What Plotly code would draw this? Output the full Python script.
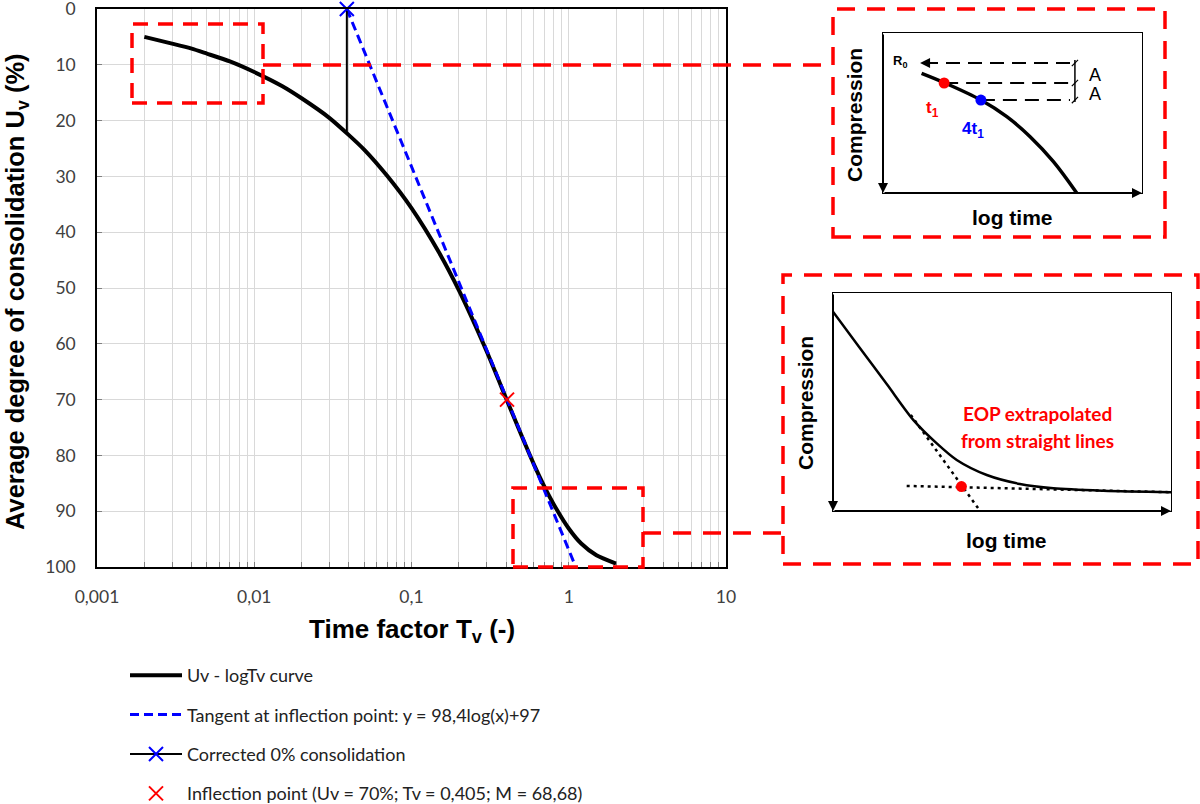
import plotly.graph_objects as go

# ---------------- data ----------------
tv_curve = [0.002, 0.003, 0.004, 0.005, 0.007, 0.01, 0.015, 0.02, 0.03, 0.04, 0.05, 0.07,
            0.1, 0.15, 0.2, 0.3, 0.4, 0.5, 0.6, 0.7, 0.8, 1.0, 1.2, 1.5, 2.0]
uv_curve = [5.0, 6.2, 7.1, 8.0, 9.4, 11.3, 13.8, 16.0, 19.5, 22.6, 25.2, 29.9,
            35.7, 43.7, 50.4, 61.3, 69.8, 76.4, 81.6, 85.6, 88.7, 93.1, 95.8, 97.9, 99.4]
tangent_tv = [0.0388, 1.09]
tangent_uv = [0.0, 99.5]
corrected_tv = [0.0388, 0.0388]
corrected_uv = [0.0, 22.0]
inflection_tv = [0.405]
inflection_uv = [70.0]

x_tickvals = [0.001, 0.01, 0.1, 1, 10]
x_ticktext = ["0,001", "0,01", "0,1", "1", "10"]
y_tickvals = [0, 10, 20, 30, 40, 50, 60, 70, 80, 90, 100]

# inset 1 (schematic, arbitrary 0-100 units)
in1_curve_x = [14.9, 23.6, 37.8, 47.8, 56.8, 65.8, 74.8]
in1_curve_y = [25.2, 31.0, 41.9, 52.3, 64.8, 80.4, 100.0]
in1_r0_x = [72.2, 18.0]
in1_r0_y = [18.75, 18.75]
in1_t1_x = [23.6, 72.2]
in1_t1_y = [31.25, 31.25]
in1_4t1_x = [37.8, 72.2]
in1_4t1_y = [41.9, 41.9]
in1_red_x = [23.6]
in1_red_y = [31.25]
in1_blue_x = [37.8]
in1_blue_y = [41.9]
in1_dim_x = [74.1, 74.1]
in1_dim_y = [16.9, 43.1]
in1_dimtick_x = [72.9, 75.3, None, 72.9, 75.3, None, 72.9, 75.3]
in1_dimtick_y = [20.75, 16.75, None, 33.25, 29.25, None, 43.9, 39.9]

# inset 2 (schematic, arbitrary 0-100 units)
in2_curve_x = [0.0, 8.0, 16.0, 23.8, 30.7, 36.6, 45.5, 55.3, 65.2, 80.0, 100.0]
in2_curve_y = [8.6, 25.3, 42.0, 58.3, 69.0, 76.6, 83.5, 87.6, 89.6, 90.7, 91.4]
in2_steep_x = [23.0, 43.3]
in2_steep_y = [55.9, 99.5]
in2_flat_x = [21.8, 100.0]
in2_flat_y = [88.5, 91.4]
in2_eop_x = [38.0]
in2_eop_y = [88.8]

W, H = 1200, 804


def px(x):
    return x / W


def py(y):
    return 1 - y / H


fig = go.Figure()

fig.add_trace(go.Scatter(
    x=tv_curve, y=uv_curve, mode="lines", name="Uv - logTv curve",
    line=dict(color="black", width=4, shape="spline", smoothing=0.6),
    legendgroup="a"))
fig.add_trace(go.Scatter(
    x=tangent_tv, y=tangent_uv, mode="lines",
    name="Tangent at inflection point: y = 98,4log(x)+97",
    line=dict(color="#0000ff", width=3, dash="9px,5px"), legendgroup="b"))
fig.add_trace(go.Scatter(
    x=corrected_tv, y=corrected_uv, mode="lines+markers",
    name="Corrected 0% consolidation",
    line=dict(color="black", width=2),
    marker=dict(symbol="x-thin", size=14,
                line=dict(color=["#0000ff", "rgba(0,0,0,0)"], width=2)),
    cliponaxis=False, legendgroup="c"))
fig.add_trace(go.Scatter(
    x=inflection_tv, y=inflection_uv, mode="markers",
    name="Inflection point (Uv = 70%; Tv = 0,405; M = 68,68)",
    marker=dict(symbol="x-thin", size=14, line=dict(color="#ff0000", width=2)),
    cliponaxis=False, legendgroup="d"))

# ---------- inset 1 traces ----------
dash_blk = dict(color="black", width=2, dash="14px,8px")
for xs, ys in [(in1_r0_x, in1_r0_y), (in1_t1_x, in1_t1_y), (in1_4t1_x, in1_4t1_y)]:
    fig.add_trace(go.Scatter(x=xs, y=ys, mode="lines", line=dash_blk,
                             xaxis="x2", yaxis="y2", showlegend=False))
fig.add_trace(go.Scatter(x=in1_curve_x, y=in1_curve_y, mode="lines",
                         line=dict(color="black", width=3.5, shape="spline"),
                         xaxis="x2", yaxis="y2", showlegend=False))
fig.add_trace(go.Scatter(x=in1_dim_x, y=in1_dim_y, mode="lines",
                         line=dict(color="black", width=1.5),
                         xaxis="x2", yaxis="y2", showlegend=False))
fig.add_trace(go.Scatter(x=in1_dimtick_x, y=in1_dimtick_y, mode="lines",
                         line=dict(color="black", width=1.2),
                         xaxis="x2", yaxis="y2", showlegend=False))
fig.add_trace(go.Scatter(x=in1_red_x, y=in1_red_y, mode="markers",
                         marker=dict(color="#ff0000", size=11),
                         xaxis="x2", yaxis="y2", showlegend=False))
fig.add_trace(go.Scatter(x=in1_blue_x, y=in1_blue_y, mode="markers",
                         marker=dict(color="#0000ff", size=11),
                         xaxis="x2", yaxis="y2", showlegend=False))

# ---------- inset 2 traces ----------
dot_blk = dict(color="black", width=2.5, dash="3px,4px")
fig.add_trace(go.Scatter(x=in2_steep_x, y=in2_steep_y, mode="lines", line=dot_blk,
                         xaxis="x3", yaxis="y3", showlegend=False))
fig.add_trace(go.Scatter(x=in2_flat_x, y=in2_flat_y, mode="lines", line=dot_blk,
                         xaxis="x3", yaxis="y3", showlegend=False))
fig.add_trace(go.Scatter(x=in2_curve_x, y=in2_curve_y, mode="lines",
                         line=dict(color="black", width=2.5, shape="spline", smoothing=0.8),
                         xaxis="x3", yaxis="y3", showlegend=False))
fig.add_trace(go.Scatter(x=in2_eop_x, y=in2_eop_y, mode="markers",
                         marker=dict(color="#ff0000", size=11),
                         xaxis="x3", yaxis="y3", showlegend=False))

tick_font = dict(family="Lato", size=17.5, color="#404040")
grid_col = "#d9d9d9"

inset_axis = dict(range=[0, 100], showgrid=False, zeroline=False, showticklabels=False,
                  ticks="", showline=True, mirror=True, linecolor="black", linewidth=1.2,
                  fixedrange=True)

fig.update_layout(
    width=W, height=H,
    margin=dict(l=0, r=0, t=0, b=0, autoexpand=False),
    paper_bgcolor="white", plot_bgcolor="white",
    xaxis=dict(type="log", range=[-3, 1], domain=[px(97), px(726)],
               tickvals=x_tickvals, ticktext=x_ticktext, tickfont=tick_font,
               showgrid=True, gridcolor=grid_col, gridwidth=1,
               minor=dict(showgrid=True, gridcolor=grid_col, gridwidth=1, dtick="D1",
                          ticks="inside", ticklen=5, tickcolor="#808080"),
               ticks="inside", ticklen=5, tickcolor="#808080",
               showline=True, mirror=True, linecolor="black", linewidth=1.5,
               zeroline=False, ticklabelstandoff=13, ticklabeloverflow="allow"),
    yaxis=dict(range=[100, 0], domain=[py(567), py(9)],
               tickvals=y_tickvals, tickfont=tick_font,
               showgrid=True, gridcolor=grid_col, gridwidth=1,
               ticks="inside", ticklen=5, tickcolor="#808080",
               showline=True, mirror=True, linecolor="black", linewidth=1.5,
               zeroline=False, ticklabelstandoff=16, ticklabeloverflow="allow"),
    xaxis2=dict(inset_axis, domain=[px(883), px(1142)], anchor="y2"),
    yaxis2=dict(inset_axis, range=[100, 0], domain=[py(193), py(33)], anchor="x2"),
    xaxis3=dict(inset_axis, domain=[px(833), px(1171)], anchor="y3"),
    yaxis3=dict(inset_axis, range=[100, 0], domain=[py(511), py(293)], anchor="x3"),
    legend=dict(x=px(125), y=py(657), xanchor="left", yanchor="top",
                font=dict(family="Lato", size=18, color="#222222"),
                tracegroupgap=13, itemwidth=52, bgcolor="rgba(0,0,0,0)"),
    showlegend=True,
)

red_dash_box = dict(color="#ff0000", width=3.5, dash="15px,10px")
red_dash_big = dict(color="#ff0000", width=3.5, dash="18px,12px")
shapes = [
    dict(type="rect", xref="paper", yref="paper", x0=px(132), x1=px(263), y0=py(103), y1=py(24),
         line=red_dash_box),
    dict(type="rect", xref="paper", yref="paper", x0=px(513), x1=px(643), y0=py(567), y1=py(488),
         line=red_dash_box),
    dict(type="line", xref="paper", yref="paper", x0=px(263), x1=px(833), y0=py(65), y1=py(65),
         line=red_dash_big),
    dict(type="line", xref="paper", yref="paper", x0=px(643), x1=px(783), y0=py(533), y1=py(533),
         line=red_dash_big),
    dict(type="rect", xref="paper", yref="paper", x0=px(833), x1=px(1165), y0=py(237), y1=py(9),
         line=red_dash_big),
    dict(type="rect", xref="paper", yref="paper", x0=px(783), x1=px(1198), y0=py(564), y1=py(275),
         line=red_dash_big),
]
fig.update_layout(shapes=shapes)

ann = []
title_font = dict(family="Liberation Sans", size=25.5, color="black")
ann.append(dict(text="<b>Average degree of consolidation U<sub>v</sub> (%)</b>", xref="paper",
                yref="paper", x=px(17), y=py(292), textangle=-90, showarrow=False,
                font=title_font, xanchor="center", yanchor="middle"))
ann.append(dict(text="<b>Time factor T<sub>v</sub> (-)</b>", xref="paper", yref="paper",
                x=px(412), y=py(630), showarrow=False, font=dict(title_font, size=26),
                xanchor="center", yanchor="middle"))

# inset arrows
for xa, ya in [("x2", "y2"), ("x3", "y3")]:
    ann.append(dict(x=0, y=100, ax=0, ay=0, xref=xa, yref=ya, axref=xa, ayref=ya,
                    showarrow=True, arrowhead=2, arrowsize=1, arrowwidth=2,
                    arrowcolor="black", text=""))
    ann.append(dict(x=100, y=100, ax=0, ay=100, xref=xa, yref=ya, axref=xa, ayref=ya,
                    showarrow=True, arrowhead=2, arrowsize=1, arrowwidth=2,
                    arrowcolor="black", text=""))
ann.append(dict(x=14.3, y=18.75, ax=20, ay=18.75, xref="x2", yref="y2", axref="x2", ayref="y2",
                showarrow=True, arrowhead=2, arrowsize=1, arrowwidth=2, arrowcolor="black",
                text=""))

lab_font = dict(family="Liberation Sans", size=21, color="black")
C = dict(xanchor="center", yanchor="middle", showarrow=False)
ann.append(dict(C, text="<b>Compression</b>", xref="paper", yref="paper", x=px(855), y=py(115),
                textangle=-90, font=lab_font))
ann.append(dict(C, text="<b>log time</b>", xref="paper", yref="paper", x=px(1012), y=py(217),
                font=lab_font))
ann.append(dict(C, text="<b>Compression</b>", xref="paper", yref="paper", x=px(805), y=py(403),
                textangle=-90, font=lab_font))
ann.append(dict(C, text="<b>log time</b>", xref="paper", yref="paper", x=px(1007), y=py(540),
                font=lab_font))
ann.append(dict(C, text="<b>R<sub>0</sub></b>", xref="x2", yref="y2", x=6.6, y=18.1,
                font=dict(family="Liberation Sans", size=13, color="black")))
ann.append(dict(C, text="<b>t<sub>1</sub></b>", xref="x2", yref="y2", x=19.3, y=47.5,
                font=dict(family="Liberation Sans", size=17, color="#ff0000")))
ann.append(dict(C, text="<b>4t<sub>1</sub></b>", xref="x2", yref="y2", x=34.7, y=60.5,
                font=dict(family="Liberation Sans", size=17, color="#0000ff")))
for yv in [26.0, 38.0]:
    ann.append(dict(C, text="A", xref="x2", yref="y2", x=81.9, y=yv,
                    font=dict(family="Liberation Sans", size=18, color="black")))
eop_font = dict(family="Lato", size=19, color="#ff0000")
ann.append(dict(C, text="<b>EOP extrapolated</b>", xref="x3", yref="y3", x=60.5, y=55.5,
                font=eop_font))
ann.append(dict(C, text="<b>from straight lines</b>", xref="x3", yref="y3", x=60.5, y=67.5,
                font=eop_font))
fig.update_layout(annotations=ann)

fig.write_html("out.html")
